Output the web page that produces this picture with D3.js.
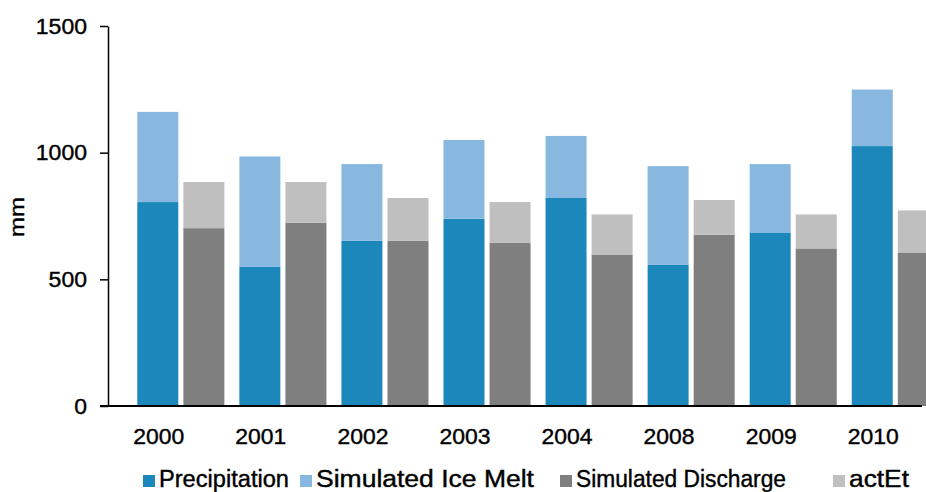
<!DOCTYPE html>
<html>
<head>
<meta charset="utf-8">
<script src="https://cdn.jsdelivr.net/npm/d3@7"></script>
<style>
  html, body { margin: 0; padding: 0; background: #fff; }
  svg { display: block; font-family: "Liberation Sans", Arial, sans-serif; }
  svg text { stroke: #000; stroke-width: 0.4px; }
</style>
</head>
<body>
<div id="chart"></div>
<script>
// data (mm)
const years = ['2000', '2001', '2002', '2003', '2004', '2008', '2009', '2010'];
const precipitation = [805, 549, 652, 739, 821, 557, 685, 1026];
const iceMelt = [356, 436, 303, 311, 245, 390, 270, 223];
const discharge = [702, 724, 653, 645, 598, 676, 622, 606];
const actEt = [182, 160, 168, 160, 158, 137, 134, 166];
const yTicks = [0, 500, 1000, 1500];

const legendItems = [
  { name: 'Precipitation', color: '#1c87bb', x: 143, len: 130 },
  { name: 'Simulated Ice Melt', color: '#88b8df', x: 300, len: 218 },
  { name: 'Simulated Discharge', color: '#7f7f7f', x: 560, len: 210 },
  { name: 'actEt', color: '#bfbfbf', x: 833, len: 60 }
];

const width = 926, height = 492;

const svg = d3.select('#chart')
  .append('svg')
  .attr('width', width)
  .attr('height', height);

// scales
const y = d3.scaleLinear().domain([0, 1500]).range([406, 26]);

const x = d3.scaleBand()
  .domain(years)
  .range([122.3, 953.8])
  .paddingInner(0.147)
  .paddingOuter(0.147);

const sub = d3.scaleBand()
  .domain(['in', 'out'])
  .range([0, x.bandwidth()])
  .paddingInner(0.11);

// stacked pairs
const rows = years.map((yr, i) => ({
  year: yr,
  precipitation: precipitation[i],
  iceMelt: iceMelt[i],
  discharge: discharge[i],
  actEt: actEt[i]
}));

const inStack = d3.stack().keys(['precipitation', 'iceMelt'])(rows);
const outStack = d3.stack().keys(['discharge', 'actEt'])(rows);
const colors = {
  precipitation: '#1c87bb',
  iceMelt: '#88b8df',
  discharge: '#7f7f7f',
  actEt: '#bfbfbf'
};

function drawStack(stack, slot) {
  svg.append('g')
    .selectAll('g')
    .data(stack)
    .join('g')
    .attr('fill', d => colors[d.key])
    .selectAll('rect')
    .data(d => d)
    .join('rect')
    .attr('x', d => x(d.data.year) + sub(slot))
    .attr('y', d => y(d[1]))
    .attr('width', sub.bandwidth())
    .attr('height', d => y(d[0]) - y(d[1]));
}

drawStack(inStack, 'in');
drawStack(outStack, 'out');

// y axis
const yAxis = svg.append('g')
  .attr('transform', 'translate(108,0)')
  .call(d3.axisLeft(y)
    .tickValues(yTicks)
    .tickFormat(d3.format('d'))
    .tickSize(8)
    .tickSizeOuter(0)
    .tickPadding(13));

yAxis.select('.domain').attr('stroke', '#000').attr('stroke-width', 1.5);
yAxis.selectAll('.tick line').attr('stroke', '#000').attr('stroke-width', 1.5);
yAxis.selectAll('.tick text')
  .attr('fill', '#000')
  .attr('textLength', d => String(d).length * 12.8)
  .attr('lengthAdjust', 'spacingAndGlyphs')
  .style('font-size', '22px')
  .style('font-family', '"Liberation Sans", Arial, sans-serif');

// x baseline
svg.append('line')
  .attr('x1', 100)
  .attr('x2', 922)
  .attr('y1', y(0))
  .attr('y2', y(0))
  .attr('stroke', '#000')
  .attr('stroke-width', 1.8);

// year labels, centred under the first bar of each group
svg.append('g')
  .selectAll('text')
  .data(years)
  .join('text')
  .attr('x', d => x(d) + sub('in') + sub.bandwidth() / 2 + 1)
  .attr('y', 444)
  .attr('text-anchor', 'middle')
  .attr('textLength', 51)
  .attr('lengthAdjust', 'spacingAndGlyphs')
  .style('font-size', '22px')
  .attr('fill', '#000')
  .text(d => d);

// y axis title
svg.append('text')
  .attr('transform', 'translate(24,217) rotate(-90)')
  .attr('text-anchor', 'middle')
  .attr('textLength', 40)
  .attr('lengthAdjust', 'spacingAndGlyphs')
  .style('font-size', '21px')
  .attr('fill', '#000')
  .text('mm');

// legend
const legend = svg.append('g');
legend.selectAll('rect')
  .data(legendItems)
  .join('rect')
  .attr('x', d => d.x)
  .attr('y', 475)
  .attr('width', 12)
  .attr('height', 12)
  .attr('fill', d => d.color);

legend.selectAll('text')
  .data(legendItems)
  .join('text')
  .attr('x', d => d.x + 16)
  .attr('y', 487)
  .attr('textLength', d => d.len)
  .attr('lengthAdjust', 'spacingAndGlyphs')
  .style('font-size', '23px')
  .attr('fill', '#000')
  .text(d => d.name);
</script>
</body>
</html>
